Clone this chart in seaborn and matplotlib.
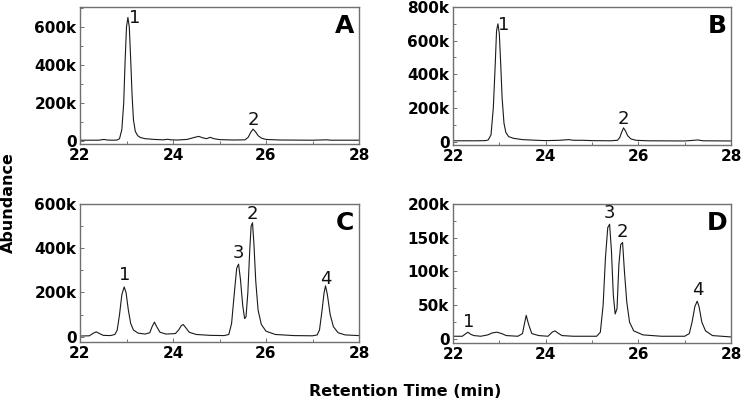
import matplotlib
matplotlib.use("Agg")
import matplotlib.pyplot as plt
from matplotlib.ticker import MultipleLocator, FuncFormatter
import seaborn as sns
import pandas as pd

# ---------------- data (retention time in min, abundance in thousands) ----------------
time_A = [22.00, 22.40, 22.48, 22.52, 22.58, 22.70, 22.80, 22.85, 22.90, 22.94, 22.97, 23.00,
          23.03, 23.06, 23.09, 23.12, 23.15, 23.19, 23.24, 23.30, 23.40, 23.60, 23.80, 23.88,
          23.95, 24.10, 24.30, 24.45, 24.55, 24.65, 24.72, 24.80, 24.88, 25.00, 25.30, 25.55,
          25.62, 25.67, 25.72, 25.77, 25.83, 25.90, 26.00, 26.30, 27.00, 27.30, 27.40, 28.00]
abund_A = [4, 4, 7, 8, 5, 4, 5, 12, 60, 200, 420, 600,
           650, 600, 430, 240, 110, 50, 28, 18, 12, 8, 6, 9,
           6, 5, 8, 18, 24, 16, 12, 19, 12, 7, 5, 6,
           20, 45, 62, 50, 28, 15, 8, 5, 4, 6, 4, 4]

time_B = [22.00, 22.50, 22.70, 22.76, 22.82, 22.87, 22.91, 22.94, 22.97, 23.00, 23.03, 23.06,
          23.10, 23.14, 23.20, 23.30, 23.50, 23.80, 24.00, 24.30, 24.50, 24.60, 24.80, 25.00,
          25.40, 25.55, 25.60, 25.64, 25.68, 25.72, 25.77, 25.84, 25.95, 26.20, 27.00, 27.20,
          27.28, 27.40, 28.00]
abund_B = [5, 5, 6, 10, 40, 200, 450, 660, 700, 640, 460, 260,
           110, 55, 30, 20, 12, 8, 6, 8, 12, 8, 8, 6,
           5, 8, 25, 55, 82, 65, 35, 16, 8, 5, 4, 8,
           10, 5, 4]

time_C = [22.00, 22.20, 22.28, 22.35, 22.42, 22.50, 22.65, 22.75, 22.80, 22.85, 22.90, 22.95,
          22.99, 23.04, 23.09, 23.15, 23.25, 23.40, 23.50, 23.55, 23.60, 23.65, 23.72, 23.85,
          24.05, 24.12, 24.18, 24.22, 24.27, 24.35, 24.50, 24.80, 25.10, 25.20, 25.26, 25.32,
          25.37, 25.41, 25.45, 25.50, 25.54, 25.57, 25.61, 25.65, 25.68, 25.71, 25.74, 25.78,
          25.83, 25.90, 26.00, 26.20, 26.60, 27.00, 27.10, 27.15, 27.20, 27.25, 27.28, 27.32,
          27.38, 27.45, 27.55, 27.70, 28.00]
abund_C = [3, 4, 15, 22, 14, 6, 5, 10, 30, 100, 190, 225,
           200, 120, 60, 30, 16, 12, 18, 45, 66, 45, 20, 12,
           14, 30, 50, 55, 42, 20, 10, 6, 5, 10, 60, 200,
           310, 328, 260, 140, 82, 90, 200, 390, 500, 515, 420, 250,
           120, 55, 25, 10, 5, 4, 8, 30, 110, 200, 230, 190,
           100, 45, 18, 8, 5]

time_D = [22.00, 22.20, 22.26, 22.32, 22.38, 22.45, 22.60, 22.75, 22.85, 22.95, 23.05, 23.15,
          23.40, 23.50, 23.54, 23.58, 23.63, 23.70, 23.85, 24.05, 24.14, 24.20, 24.26, 24.35,
          24.60, 25.10, 25.18, 25.24, 25.29, 25.34, 25.38, 25.42, 25.46, 25.50, 25.54, 25.58,
          25.62, 25.66, 25.70, 25.75, 25.81, 25.90, 26.10, 26.50, 27.00, 27.10, 27.16, 27.22,
          27.27, 27.31, 27.37, 27.45, 27.60, 28.00]
abund_D = [4, 4, 7, 10, 7, 5, 4, 6, 9, 10, 8, 5,
           4, 8, 22, 35, 22, 8, 5, 4, 10, 12, 9, 5,
           4, 4, 10, 50, 120, 165, 170, 130, 65, 37, 45, 110,
           140, 143, 100, 55, 25, 12, 6, 4, 4, 8, 25, 48,
           56, 48, 25, 12, 5, 3]

panel_letters = ["A", "B", "C", "D"]
peak_labels = {
    "A": [("1", 23.18, 645), ("2", 25.72, 110)],
    "B": [("1", 23.09, 695), ("2", 25.68, 135)],
    "C": [("1", 22.96, 280), ("3", 25.41, 378), ("2", 25.71, 555), ("4", 27.28, 260)],
    "D": [("1", 22.33, 25), ("3", 25.38, 187), ("2", 25.66, 158), ("4", 27.28, 72)],
}
y_limits = {"A": (-16, 705), "B": (-20, 800), "C": (-24, 600), "D": (-6, 200)}
y_major = {"A": 200, "B": 200, "C": 200, "D": 50}

traces = {"A": (time_A, abund_A), "B": (time_B, abund_B),
          "C": (time_C, abund_C), "D": (time_D, abund_D)}

# ---------------- figure ----------------
sns.set_style("ticks")
plt.rcParams["font.family"] = ["DejaVu Sans"]
plt.rcParams["text.color"] = "black"
plt.rcParams["xtick.labelcolor"] = "black"
plt.rcParams["ytick.labelcolor"] = "black"

fig = plt.figure(figsize=(7.42, 4.04), dpi=100)
W, H = 742.0, 404.0
boxes = {
    "A": (80, 7, 359, 144),
    "B": (453, 7, 731, 145),
    "C": (80, 204, 359, 342),
    "D": (453, 204, 731, 343),
}

spine_col = "#707070"
for key in panel_letters:
    l, t, r, b = boxes[key]
    ax = fig.add_axes([l / W, (H - b) / H, (r - l) / W, (b - t) / H])
    tx, ty = traces[key]
    df = pd.DataFrame({"time": tx, "abundance": [v * 1000 for v in ty]})
    sns.lineplot(data=df, x="time", y="abundance", ax=ax, sort=False, estimator=None,
                 color="#1a1a1a", linewidth=0.8)
    ax.set_xlim(22, 28)
    lo, hi = y_limits[key]
    ax.set_ylim(lo * 1000, hi * 1000)
    ax.xaxis.set_major_locator(MultipleLocator(2))
    ax.xaxis.set_minor_locator(MultipleLocator(1))
    ax.yaxis.set_major_locator(MultipleLocator(y_major[key] * 1000))
    ax.yaxis.set_minor_locator(MultipleLocator(y_major[key] * 500))
    ax.yaxis.set_major_formatter(FuncFormatter(lambda v, p: "0" if abs(v) < 1 else f"{int(round(v / 1000))}k"))
    ax.set_xlabel("")
    ax.set_ylabel("")
    for s in ax.spines.values():
        s.set_visible(True)
        s.set_color(spine_col)
        s.set_linewidth(1.0)
    ax.tick_params(which="both", direction="in", color=spine_col, width=0.7)
    ax.tick_params(which="major", length=3.0, labelsize=11, labelcolor="black")
    ax.tick_params(axis="x", which="major", pad=3.2)
    ax.tick_params(axis="y", which="major", pad=2.5)
    ax.tick_params(which="minor", length=2.0)
    for lab in ax.get_xticklabels() + ax.get_yticklabels():
        lab.set_fontweight("bold")
    for txt, x, y in peak_labels[key]:
        ax.text(x, y * 1000, txt, ha="center", va="center", fontsize=13, color="#111111")
    ax.text(0.95, 0.86, key, transform=ax.transAxes, ha="center", va="center",
            fontsize=18, fontweight="bold", color="black")

fig.text(8 / W, 1 - 203 / H, "Abundance", rotation=90, ha="center", va="center",
         fontsize=11.5, fontweight="bold", color="black")
fig.text(405 / W, 1 - 391 / H, "Retention Time (min)", ha="center", va="center",
         fontsize=11.5, fontweight="bold", color="black")

fig.savefig("out.png", dpi=100)
